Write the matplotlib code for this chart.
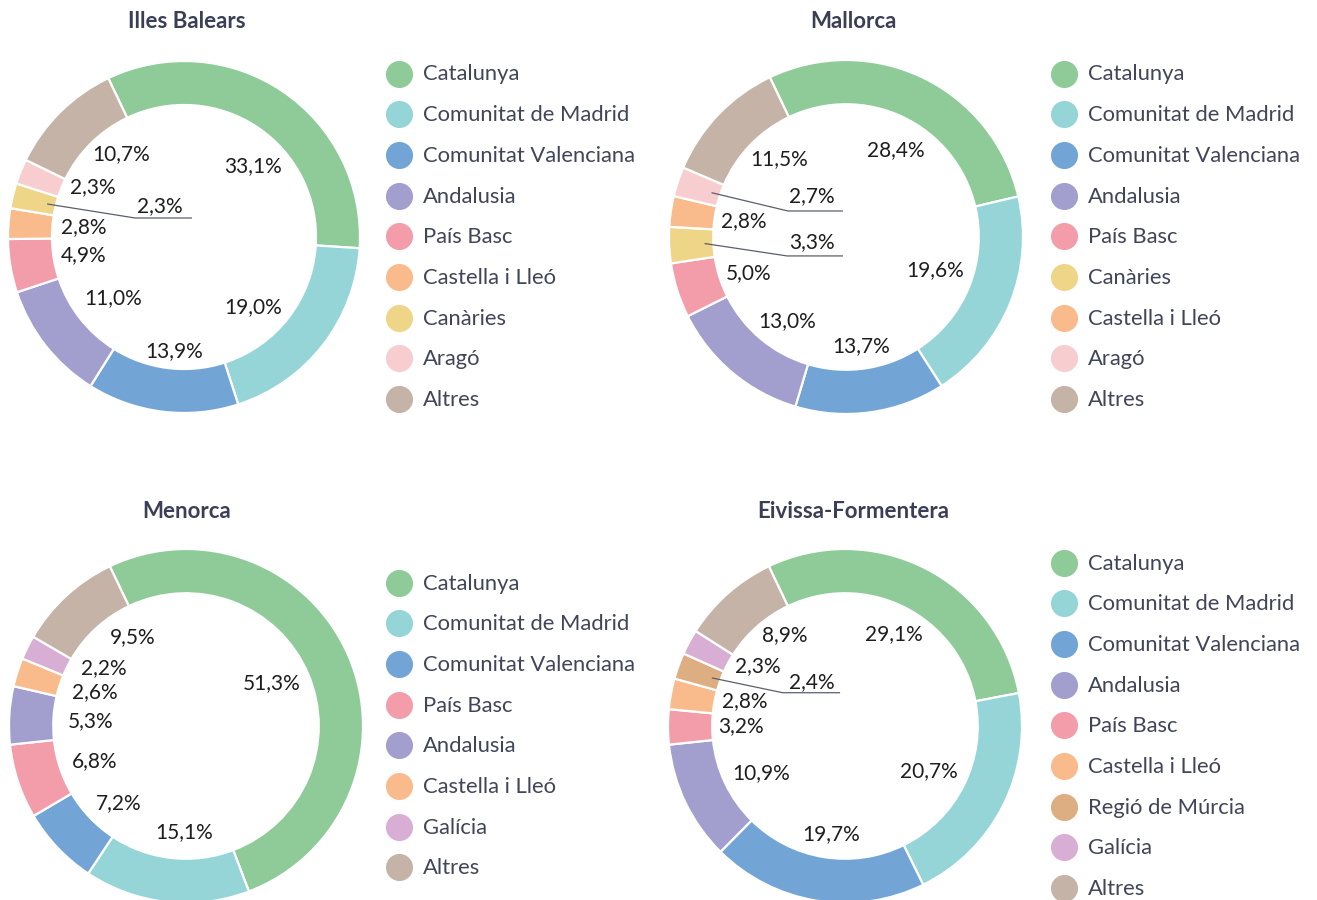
import numpy as np
import matplotlib.pyplot as plt
from matplotlib.lines import Line2D

plt.rcParams['font.family'] = ['Lato', 'DejaVu Sans']

W, H = 1317, 900

# ------------------------------------------------------------------
# data
# ------------------------------------------------------------------
COLORS = {
    'Catalunya':            '#8ECB98',
    'Comunitat de Madrid':  '#95D5D7',
    'Comunitat Valenciana': '#72A5D6',
    'Andalusia':            '#A29ECE',
    'País Basc':            '#F39DAA',
    'Castella i Lleó':      '#F9BB8C',
    'Canàries':             '#EFD587',
    'Aragó':                '#F8CDD0',
    'Regió de Múrcia':      '#DCAE82',
    'Galícia':              '#D8AED4',
    'Altres':               '#C5B3A7',
}

ib_regions = ['Catalunya', 'Comunitat de Madrid', 'Comunitat Valenciana', 'Andalusia',
              'País Basc', 'Castella i Lleó', 'Canàries', 'Aragó', 'Altres']
ib_values = [33.1, 19.0, 13.9, 11.0, 4.9, 2.8, 2.3, 2.3, 10.7]
ib_legend = ['Catalunya', 'Comunitat de Madrid', 'Comunitat Valenciana', 'Andalusia',
             'País Basc', 'Castella i Lleó', 'Canàries', 'Aragó', 'Altres']

ma_regions = ['Catalunya', 'Comunitat de Madrid', 'Comunitat Valenciana', 'Andalusia',
              'País Basc', 'Canàries', 'Castella i Lleó', 'Aragó', 'Altres']
ma_values = [28.4, 19.6, 13.7, 13.0, 5.0, 3.3, 2.8, 2.7, 11.5]
ma_legend = ['Catalunya', 'Comunitat de Madrid', 'Comunitat Valenciana', 'Andalusia',
             'País Basc', 'Canàries', 'Castella i Lleó', 'Aragó', 'Altres']

me_regions = ['Catalunya', 'Comunitat de Madrid', 'Comunitat Valenciana', 'País Basc',
              'Andalusia', 'Castella i Lleó', 'Galícia', 'Altres']
me_values = [51.3, 15.1, 7.2, 6.8, 5.3, 2.6, 2.2, 9.5]
me_legend = ['Catalunya', 'Comunitat de Madrid', 'Comunitat Valenciana', 'País Basc',
             'Andalusia', 'Castella i Lleó', 'Galícia', 'Altres']

ei_regions = ['Catalunya', 'Comunitat de Madrid', 'Comunitat Valenciana', 'Andalusia',
              'País Basc', 'Castella i Lleó', 'Regió de Múrcia', 'Galícia', 'Altres']
ei_values = [29.1, 20.7, 19.7, 10.9, 3.2, 2.8, 2.4, 2.3, 8.9]
ei_legend = ['Catalunya', 'Comunitat de Madrid', 'Comunitat Valenciana', 'Andalusia',
             'País Basc', 'Castella i Lleó', 'Regió de Múrcia', 'Galícia', 'Altres']

# ------------------------------------------------------------------
# layout (pixels) and label placement (units of outer radius)
# ------------------------------------------------------------------
# label positions, one per slice; entry with a tuple first = leader line
ib_lab = [(0.392, 0.403), (0.392, -0.398), (-0.057, -0.648), (-0.403, -0.347),
          (-0.568, -0.102), (-0.568, 0.057), ((-0.136, 0.176), -0.278, 0.045, 0.108),
          (-0.517, 0.284), (-0.358, 0.472)]
ma_lab = [(0.282, 0.492), (0.503, -0.186), (0.085, -0.616), (-0.333, -0.475),
          (-0.548, -0.203), ((-0.192, -0.028), -0.333, -0.017, -0.107),
          (-0.576, 0.090), ((-0.192, 0.232), -0.328, -0.017, 0.147), (-0.379, 0.441)]
me_lab = [(0.483, 0.242), (-0.011, -0.601), (-0.382, -0.438), (-0.517, -0.197),
          (-0.539, 0.028), (-0.517, 0.191), (-0.466, 0.326), (-0.303, 0.500)]
ei_lab = [(0.278, 0.517), (0.472, -0.256), (-0.080, -0.608), (-0.472, -0.267),
          (-0.585, 0.0), (-0.568, 0.142), ((-0.188, 0.250), -0.352, -0.028, 0.188),
          (-0.494, 0.341), (-0.341, 0.511)]

charts = [
    # title, regions, values, legend order, labels, centre x, centre y, R, title xy, legend x, legend y0
    ('Illes Balears', ib_regions, ib_values, ib_legend, ib_lab, 184, 237, 176, (187, 21), 399, 73),
    ('Mallorca', ma_regions, ma_values, ma_legend, ma_lab, 846, 237, 177, (853, 21), 1064, 73),
    ('Menorca', me_regions, me_values, me_legend, me_lab, 186, 726, 177, (187, 512), 399, 582),
    ('Eivissa-Formentera', ei_regions, ei_values, ei_legend, ei_lab, 845, 726, 177, (853, 512), 1064, 562),
]

LEG_STEP = 40.7
TXT = '#1E1E1E'
LEG_TXT = '#414558'
TITLE_C = '#3A3F55'
START = 115.5

fig = plt.figure(figsize=(W / 100, H / 100), dpi=100)
fig.patch.set_facecolor('white')

def fx(x):
    return x / W

def fy(y):
    return 1 - y / H

for (title, regions, values, legend, labs, cx, cy, R, txy, lx, ly0) in charts:
    L = 1.3
    ax = fig.add_axes([fx(cx - L * R), fy(cy + L * R), 2 * L * R / W, 2 * L * R / H])
    ax.pie(values, colors=[COLORS[r] for r in regions], startangle=START,
           counterclock=False, radius=1.0,
           wedgeprops=dict(width=0.25, edgecolor='white', linewidth=1.6))
    ax.set_xlim(-L, L)
    ax.set_ylim(-L, L)
    ax.set_aspect('equal', adjustable='box')
    ax.axis('off')

    # slice mid-angles (clockwise from top) for leader lines
    cum = np.cumsum([0] + list(values))
    total = cum[-1]
    for i, (v, lab) in enumerate(zip(values, labs)):
        s = f'{v:.1f}'.replace('.', ',') + '%'
        if isinstance(lab[0], tuple):
            (tx, ty), ex, endx, ly = lab
            mid = (cum[i] + v / 2) / total * 360 + (90 - START)
            a = np.deg2rad(mid)
            sx, sy = 0.8 * np.sin(a), 0.8 * np.cos(a)
            ax.plot([sx, ex, endx], [sy, ly, ly], color='#5A5F6E', lw=0.9,
                    solid_capstyle='butt')
            ax.text(tx, ty, s, ha='center', va='center', fontsize=15, color=TXT)
        else:
            ax.text(lab[0], lab[1], s, ha='center', va='center', fontsize=15, color=TXT)

    fig.text(fx(txy[0]), fy(txy[1]), title, ha='center', va='center',
             fontsize=16, fontweight='bold', color=TITLE_C)

    for j, name in enumerate(legend):
        yy = ly0 + j * LEG_STEP
        fig.add_artist(Line2D([fx(lx)], [fy(yy + 0.5)], marker='o', markersize=19.5,
                              markerfacecolor=COLORS[name], markeredgecolor='none',
                              linestyle='none', transform=fig.transFigure))
        fig.text(fx(lx + 24), fy(yy + 1.5), name, ha='left', va='center',
                 fontsize=15.8, color=LEG_TXT)

fig.savefig('out.png', dpi=100, facecolor='white')
